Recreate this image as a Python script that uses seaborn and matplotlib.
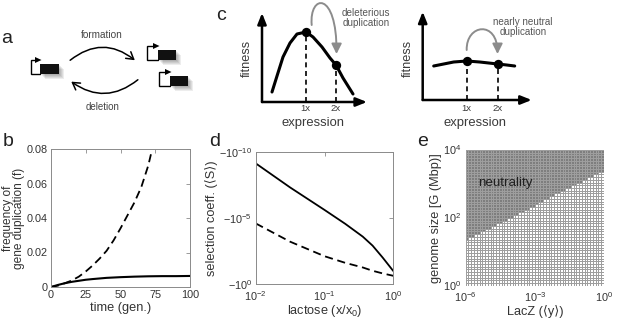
import numpy as np
import pandas as pd
import seaborn as sns
import matplotlib
matplotlib.use("Agg")
import matplotlib.pyplot as plt
from matplotlib.patches import FancyArrowPatch, Rectangle, Polygon
from matplotlib.path import Path
from matplotlib.colors import ListedColormap

sns.set_theme(style="white")
plt.rcParams["font.family"] = ["Liberation Sans", "DejaVu Sans"]
plt.rcParams["mathtext.fontset"] = "custom"
plt.rcParams["mathtext.rm"] = "Liberation Sans"
plt.rcParams["mathtext.it"] = "Liberation Sans:italic"
plt.rcParams["mathtext.bf"] = "Liberation Sans:bold"
plt.rcParams["mathtext.default"] = "regular"

# ---------------- data ----------------
# panel b
time_solid = [0, 5, 10, 15, 20, 25, 30, 40, 50, 60, 70, 80, 90, 100]
freq_solid = [0, 0.0012, 0.0022, 0.0030, 0.0036, 0.0042, 0.0046, 0.0053,
              0.0057, 0.0060, 0.0062, 0.0063, 0.0063, 0.0064]
time_dashed = [0, 5, 10, 15, 20, 25, 30, 35, 40, 45, 50, 55, 60, 65, 70, 72.5]
freq_dashed = [0, 0.0008, 0.0022, 0.0038, 0.0060, 0.0090, 0.0125, 0.0165,
               0.0210, 0.0270, 0.0340, 0.0415, 0.0490, 0.0580, 0.0705, 0.0790]
b_xticks = [0, 25, 50, 75, 100]
b_yticks = [0, 0.02, 0.04, 0.06, 0.08]
b_yticklabels = ["0", "0.02", "0.04", "0.06", "0.08"]

# panel d  (|S| exponent, log10)
lactose = [0.01, 0.0316, 0.1, 0.2, 0.36, 0.5, 0.7, 1.0]
sel_solid_exp = [-9.12, -7.3, -5.6, -4.55, -3.58, -2.9, -2.0, -0.98]
sel_dashed_exp = [-4.58, -3.2, -2.1, -1.6, -1.25, -1.0, -0.8, -0.62]
d_xticks = [0.01, 0.1, 1.0]
d_xticklabels = ["$10^{-2}$", "$10^{-1}$", "$10^{0}$"]
d_yticks = [1e-10, 1e-5, 1.0]
d_yticklabels = ["$-10^{-10}$", "$-10^{-5}$", "$-10^{0}$"]

# panel e (neutrality boundary, log10 G vs log10 <y>)
lacz_boundary_log = [-6.0, 0.0]
genome_boundary_log = [1.35, 3.41]
n_cells = 50
e_xticklabels = ["$10^{-6}$", "$10^{-3}$", "$10^{0}$"]
e_yticklabels = ["$10^{4}$", "$10^{2}$", "$10^{0}$"]

# panel c schematic curves
expr_c1 = [10, 15, 21, 28, 35, 44, 51, 60, 68, 74, 81, 91]
fit_c1 = [10, 26, 45, 59, 68, 70, 65, 55, 44, 37, 24, 8]
dots_c1_x = [44, 74]
dots_c1_y = [70, 37]
expr_c2 = [11, 21, 31, 44, 57, 75, 84, 92]
fit_c2 = [34, 36, 38, 39, 38, 36, 35, 34]
dots_c2_x = [44, 75]
dots_c2_y = [39, 36]

W, H = 617, 320
fig = plt.figure(figsize=(W / 100, H / 100), dpi=100)


def px_axes(x0, y0, x1, y1):
    return fig.add_axes([x0 / W, 1 - y1 / H, (x1 - x0) / W, (y1 - y0) / H])


spine_col = "#8a8a8a"
lab_col = "#333333"
TICK_FS = 7.8
LAB_FS = 9.2


def style_axes(ax):
    for s in ax.spines.values():
        s.set_visible(True)
        s.set_color(spine_col)
        s.set_linewidth(0.7)
    ax.tick_params(which="both", direction="in", length=3, width=0.6,
                   color=spine_col, labelcolor=lab_col, top=True, right=True,
                   labelsize=TICK_FS, pad=2.5)


# overlay
ov = fig.add_axes([0, 0, 1, 1])
ov.set_xlim(0, W)
ov.set_ylim(H, 0)
ov.axis("off")

# ---------------- panel b ----------------
ax_b = px_axes(51, 149, 190, 287)
sns.lineplot(x=time_solid, y=freq_solid, ax=ax_b, color="black", lw=1.5)
sns.lineplot(x=time_dashed, y=freq_dashed, ax=ax_b, color="black", lw=1.3,
             linestyle=(0, (4.5, 2.6)))
ax_b.set_xlim(0, 100)
ax_b.set_ylim(0, 0.08)
ax_b.set_xticks(b_xticks)
ax_b.set_xticklabels([str(t) for t in b_xticks])
ax_b.set_yticks(b_yticks)
ax_b.set_yticklabels(b_yticklabels)
style_axes(ax_b)
ax_b.set_xlabel("time (gen.)", fontsize=LAB_FS, color=lab_col, labelpad=1)
ax_b.set_ylabel("frequency of\ngene duplication (f)", fontsize=8.6,
                color=lab_col, labelpad=1, linespacing=0.9)

# ---------------- panel d ----------------
ax_d = px_axes(255.7, 151.7, 393.3, 284)
sns.lineplot(x=lactose, y=[10 ** v for v in sel_solid_exp], ax=ax_d,
             color="black", lw=1.3)
sns.lineplot(x=lactose, y=[10 ** v for v in sel_dashed_exp], ax=ax_d,
             color="black", lw=1.3, linestyle=(0, (4.5, 2.6)))
ax_d.set_xscale("log")
ax_d.set_yscale("log")
ax_d.set_xlim(0.01, 1)
ax_d.set_ylim(1, 1e-10)
ax_d.minorticks_off()
ax_d.set_xticks(d_xticks)
ax_d.set_xticklabels(d_xticklabels)
ax_d.set_yticks(d_yticks)
ax_d.set_yticklabels(d_yticklabels)
style_axes(ax_d)
ax_d.tick_params(axis="x", pad=4)
ax_d.minorticks_off()
ax_d.set_xlabel("lactose (x/x$_0$)", fontsize=LAB_FS, color=lab_col, labelpad=0)
ax_d.set_ylabel("selection coeff. (\u27e8S\u27e9)", fontsize=LAB_FS,
                color=lab_col, labelpad=1)

# ---------------- panel e ----------------
ax_e = px_axes(465.7, 150, 604, 285.7)
col_log = -6 + (np.arange(n_cells) + 0.5) * 6 / n_cells
row_log = (np.arange(n_cells) + 0.5) * 4 / n_cells
bound = np.interp(col_log, lacz_boundary_log, genome_boundary_log)
mask = (row_log[:, None] > bound[None, :]).astype(int)[::-1]
sns.heatmap(mask, ax=ax_e, cmap=ListedColormap(["#ffffff", "#7e7e7e"]),
            cbar=False, linewidths=0.45, linecolor="#9e9e9e", vmin=0, vmax=1)
ax_e.set_xticks([0, n_cells / 2, n_cells])
ax_e.set_xticklabels(e_xticklabels, rotation=0)
ax_e.set_yticks([0, n_cells / 2, n_cells])
ax_e.set_yticklabels(e_yticklabels, rotation=0)
ax_e.tick_params(which="both", direction="in", length=0, labelcolor=lab_col,
                 labelsize=TICK_FS, pad=3)
ax_e.text(14.2, 12.2, "neutrality", ha="center", va="center", fontsize=9.6,
          color="#1e1e1e")
ax_e.set_xlabel("LacZ (\u27e8y\u27e9)", fontsize=LAB_FS, color=lab_col, labelpad=1)
ax_e.set_ylabel("genome size [G (Mbp)]", fontsize=LAB_FS, color=lab_col,
                labelpad=1)

# ---------------- panel c ----------------
def c_panel(x0, y0, x1, y1, ex, ft, dx, dy):
    ax = px_axes(x0, y0, x1, y1)
    w, h = x1 - x0, y1 - y0
    ax.set_xlim(0, w)
    ax.set_ylim(0, h)
    ax.axis("off")
    for a, b in [((0, 0), (w, 0)), ((0, 0), (0, h))]:
        ax.add_patch(FancyArrowPatch(a, b, arrowstyle="-|>,head_length=6.5,head_width=2.6",
                                     lw=1.8, color="black", shrinkA=0, shrinkB=0,
                                     mutation_scale=1, clip_on=False))
    ax.vlines(dx, 0, dy, colors="black", linestyles=(0, (3, 2.2)), lw=1.2)
    sns.lineplot(x=ex, y=ft, ax=ax, color="black", lw=2.2, sort=False)
    sns.scatterplot(x=dx, y=dy, ax=ax, color="black", s=45, zorder=5,
                    edgecolor="black", linewidth=0)
    for c in ax.get_children():
        try:
            c.set_clip_on(False)
        except Exception:
            pass
    return ax


c1 = c_panel(262, 13, 367, 102, expr_c1, fit_c1, dots_c1_x, dots_c1_y)
c2 = c_panel(422.7, 11.7, 531.7, 100, expr_c2, fit_c2, dots_c2_x, dots_c2_y)

txt = "#3a3a3a"
for (x, lab) in [(305.7, "1x"), (336, "2x"), (466.7, "1x"), (497.3, "2x")]:
    ov.text(x, 108.3, lab, ha="center", va="center", fontsize=6.8, color=txt)
ov.text(313.3, 123.3, "expression", ha="center", va="center", fontsize=9.4, color=txt)
ov.text(475, 123.3, "expression", ha="center", va="center", fontsize=9.4, color=txt)
ov.text(246.7, 58, "fitness", ha="center", va="center", rotation=90, fontsize=9.2, color=txt)
ov.text(408.3, 58, "fitness", ha="center", va="center", rotation=90, fontsize=9.2, color=txt)
ov.text(366, 18, "deleterious\nduplication", ha="center", va="center",
        fontsize=7.1, color="#555555", linespacing=1.05)
ov.text(523, 27, "nearly neutral\nduplication", ha="center", va="center",
        fontsize=7.1, color="#555555", linespacing=1.05)

gray_arrow = "#8c8c8c"
for verts in [[(311.7, 25), (309, -6), (337, -10), (336.5, 54)],
              [(466.7, 50), (466, 24), (497.5, 20), (497.5, 54)]]:
    p = Path(verts, [Path.MOVETO, Path.CURVE4, Path.CURVE4, Path.CURVE4])
    ov.add_patch(FancyArrowPatch(path=p, arrowstyle="-|>,head_length=6,head_width=3",
                                 color=gray_arrow, lw=1.4, mutation_scale=1,
                                 transform=ov.transData, clip_on=False))

# ---------------- panel a ----------------
def gene(rx, ry, w, h, px):
    for k in range(1, 6):
        ov.add_patch(Rectangle((rx + k * 0.9, ry + k * 0.9), w, h,
                               facecolor="#000000", alpha=0.07, lw=0))
    ov.add_patch(Rectangle((rx, ry), w, h, facecolor="#111111", lw=0))
    top = ry - 4
    ov.plot([rx, px, px, rx - 4.5], [ry + h, ry + h, top, top], color="black",
            lw=1.0, solid_joinstyle="miter")
    ov.add_patch(Polygon([(rx - 5, top - 3), (rx + 1.5, top), (rx - 5, top + 3)],
                         closed=True, facecolor="black", lw=0))


gene(40, 64, 19, 10, 30.7)
gene(158, 50, 18, 10, 147)
gene(170, 76, 18, 10, 159)

ov.add_patch(FancyArrowPatch((68, 62), (137, 62), connectionstyle="arc3,rad=-0.42",
                             arrowstyle="->,head_length=5,head_width=3",
                             color="black", lw=1.1, mutation_scale=1))
ov.add_patch(FancyArrowPatch((140, 78), (69, 80), connectionstyle="arc3,rad=-0.4",
                             arrowstyle="->,head_length=5,head_width=3",
                             color="black", lw=1.1, mutation_scale=1))
ov.text(102, 35, "formation", ha="center", va="center", fontsize=7.2, color="#444444")
ov.text(103, 107, "deletion", ha="center", va="center", fontsize=7.0, color="#444444")

# panel letters
for x, y, l in [(7, 43, "a"), (8, 146, "b"), (221, 20, "c"), (215, 146, "d"), (423, 146, "e")]:
    ov.text(x, y, l, ha="center", va="baseline", fontsize=14, color="#222222")

fig.savefig("out.png", dpi=100)
